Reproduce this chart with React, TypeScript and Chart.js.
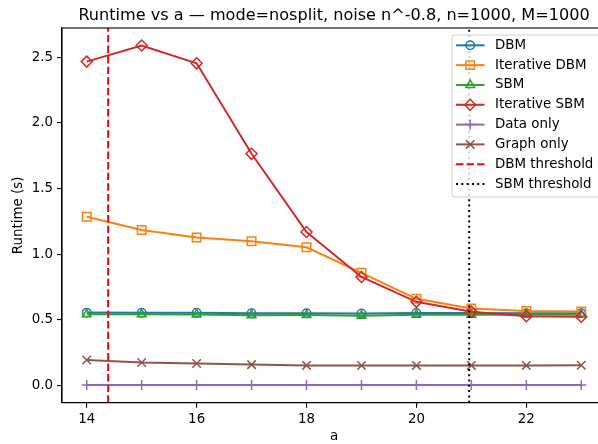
import React, { useEffect, useRef } from "react";
import { Chart, registerables } from "chart.js";

Chart.register(...registerables);

const aValues = [14, 15, 16, 17, 18, 19, 20, 21, 22, 23];
const dbm = [0.556, 0.555, 0.555, 0.551, 0.552, 0.55, 0.553, 0.553, 0.551, 0.552];
const iterDbm = [1.286, 1.185, 1.127, 1.099, 1.053, 0.859, 0.661, 0.588, 0.568, 0.565];
const sbm = [0.543, 0.543, 0.542, 0.536, 0.538, 0.532, 0.539, 0.54, 0.542, 0.541];
const iterSbm = [2.467, 2.59, 2.454, 1.765, 1.17, 0.827, 0.638, 0.563, 0.528, 0.524];
const dataOnly = [0.005, 0.005, 0.005, 0.005, 0.005, 0.005, 0.005, 0.005, 0.005, 0.005];
const graphOnly = [0.195, 0.176, 0.169, 0.16, 0.154, 0.153, 0.154, 0.154, 0.154, 0.155];
const dbmThreshold = 14.39;
const sbmThreshold = 20.96;
const xTicks = [14, 16, 18, 20, 22];
const yTicks = [0, 0.5, 1.0, 1.5, 2.0, 2.5];
const xMin = 13.55;
const xMax = 23.45;
const yMin = -0.13;
const yMax = 2.723;

const titleText = "Runtime vs a — mode=nosplit, noise n^-0.8, n=1000, M=1000";
const FONT = "'DejaVu Sans', sans-serif";
const FS = 13.4;
const TFS = 16.1;

type Series = { label: string; values: number[]; color: string; style: string; radius: number };
const seriesList: Series[] = [
  { label: "DBM", values: dbm, color: "#1f77b4", style: "circle", radius: 4.2 },
  { label: "Iterative DBM", values: iterDbm, color: "#ff7f0e", style: "rect", radius: 6 },
  { label: "SBM", values: sbm, color: "#2ca02c", style: "triangle", radius: 5 },
  { label: "Iterative SBM", values: iterSbm, color: "#d62728", style: "rectRot", radius: 5.5 },
  { label: "Data only", values: dataOnly, color: "#9467bd", style: "cross", radius: 5 },
  { label: "Graph only", values: graphOnly, color: "#8c564b", style: "crossRot", radius: 6 },
];

const W = 640;
const H = 444;
const AREA = { left: 62, top: 28, right: 606, bottom: 402.7 };

function drawMarker(ctx: CanvasRenderingContext2D, style: string, r: number, x: number, y: number) {
  ctx.beginPath();
  const S = Math.SQRT1_2;
  switch (style) {
    case "circle":
      ctx.arc(x, y, r, 0, Math.PI * 2);
      ctx.closePath();
      break;
    case "rect":
      ctx.rect(x - S * r, y - S * r, 2 * S * r, 2 * S * r);
      break;
    case "triangle": {
      let rad = 0;
      ctx.moveTo(x + Math.sin(rad) * r, y - Math.cos(rad) * r);
      rad += (2 * Math.PI) / 3;
      ctx.lineTo(x + Math.sin(rad) * r, y - Math.cos(rad) * r);
      rad += (2 * Math.PI) / 3;
      ctx.lineTo(x + Math.sin(rad) * r, y - Math.cos(rad) * r);
      ctx.closePath();
      break;
    }
    case "rectRot":
      ctx.moveTo(x - r, y);
      ctx.lineTo(x, y - r);
      ctx.lineTo(x + r, y);
      ctx.lineTo(x, y + r);
      ctx.closePath();
      break;
    case "cross":
      ctx.moveTo(x, y - r);
      ctx.lineTo(x, y + r);
      ctx.moveTo(x - r, y);
      ctx.lineTo(x + r, y);
      break;
    case "crossRot":
      ctx.moveTo(x - S * r, y - S * r);
      ctx.lineTo(x + S * r, y + S * r);
      ctx.moveTo(x - S * r, y + S * r);
      ctx.lineTo(x + S * r, y - S * r);
      break;
  }
  ctx.stroke();
}

const decorPlugin = {
  id: "decor",
  afterDraw(chart: any) {
    const ctx = chart.ctx as CanvasRenderingContext2D;
    const ca = chart.chartArea;
    ctx.save();
    ctx.strokeStyle = "#000";
    ctx.lineWidth = 1.1;
    ctx.strokeRect(ca.left, ca.top, ca.right - ca.left, ca.bottom - ca.top);
    ctx.fillStyle = "#000";
    ctx.font = `${TFS}px ${FONT}`;
    ctx.textAlign = "center";
    ctx.textBaseline = "alphabetic";
    ctx.fillText(titleText, (ca.left + ca.right) / 2, 20);
    ctx.font = `${FS}px ${FONT}`;
    ctx.textBaseline = "top";
    ctx.fillText("a", (ca.left + ca.right) / 2, 430);
    ctx.save();
    ctx.translate(19, (ca.top + ca.bottom) / 2);
    ctx.rotate(-Math.PI / 2);
    ctx.textBaseline = "middle";
    ctx.fillText("Runtime (s)", 0, 0);
    ctx.restore();

    // legend
    const lx = 452, ly = 35, lw = 149, lh = 162;
    const r = 3;
    ctx.beginPath();
    ctx.moveTo(lx + r, ly);
    ctx.lineTo(lx + lw - r, ly);
    ctx.arcTo(lx + lw, ly, lx + lw, ly + r, r);
    ctx.lineTo(lx + lw, ly + lh - r);
    ctx.arcTo(lx + lw, ly + lh, lx + lw - r, ly + lh, r);
    ctx.lineTo(lx + r, ly + lh);
    ctx.arcTo(lx, ly + lh, lx, ly + lh - r, r);
    ctx.lineTo(lx, ly + r);
    ctx.arcTo(lx, ly, lx + r, ly, r);
    ctx.closePath();
    ctx.fillStyle = "rgba(255,255,255,0.8)";
    ctx.fill();
    ctx.strokeStyle = "rgba(204,204,204,0.9)";
    ctx.lineWidth = 1;
    ctx.stroke();

    const rowY0 = 45.3;
    const rowStep = 19.82;
    const x0 = 456, x1 = 484.5, xm = 470.2, tx = 495;
    const entries: { label: string; color: string; style?: string; radius?: number; dash?: number[] }[] = [
      ...seriesList.map((s) => ({ label: s.label, color: s.color, style: s.style, radius: s.radius })),
      { label: "DBM threshold", color: "#ff0000", dash: [7.4, 3.2] },
      { label: "SBM threshold", color: "#000000", dash: [2, 3.3] },
    ];
    entries.forEach((e, i) => {
      const y = rowY0 + i * rowStep;
      ctx.save();
      ctx.strokeStyle = e.color;
      ctx.lineWidth = 2;
      ctx.setLineDash(e.dash || []);
      ctx.beginPath();
      ctx.moveTo(x0, y);
      ctx.lineTo(x1, y);
      ctx.stroke();
      ctx.setLineDash([]);
      if (e.style) {
        ctx.lineWidth = 1.5;
        drawMarker(ctx, e.style, e.radius || 4, xm, y);
      }
      ctx.restore();
      ctx.fillStyle = "#000";
      ctx.font = `${FS}px ${FONT}`;
      ctx.textAlign = "left";
      ctx.textBaseline = "middle";
      ctx.fillText(e.label, tx, y);
    });
    ctx.restore();
  },
};

export default function App() {
  const ref = useRef<HTMLCanvasElement | null>(null);
  useEffect(() => {
    document.body.style.margin = "0";
    document.body.style.overflow = "hidden";
    const canvas = ref.current!;
    const n = seriesList.length;
    const datasets: any[] = seriesList.map((s, i) => ({
      label: s.label,
      data: aValues.map((a, k) => ({ x: a, y: s.values[k] })),
      borderColor: s.color,
      backgroundColor: "rgba(0,0,0,0)",
      borderWidth: 2,
      pointStyle: s.style,
      pointRadius: s.radius,
      pointBorderWidth: 1.5,
      pointBorderColor: s.color,
      pointBackgroundColor: "rgba(0,0,0,0)",
      order: n + 2 - i,
      tension: 0,
    }));
    datasets.push({
      label: "DBM threshold",
      data: [{ x: dbmThreshold, y: yMin }, { x: dbmThreshold, y: yMax }],
      borderColor: "#ff0000",
      borderWidth: 2,
      borderDash: [7.4, 3.2],
      pointRadius: 0,
      order: 1,
    });
    datasets.push({
      label: "SBM threshold",
      data: [{ x: sbmThreshold, y: yMin }, { x: sbmThreshold, y: yMax }],
      borderColor: "#000000",
      borderWidth: 2,
      borderDash: [2, 3.3],
      pointRadius: 0,
      order: 0,
    });

    const chart = new Chart(canvas, {
      type: "line",
      data: { datasets },
      options: {
        animation: false,
        responsive: false,
        devicePixelRatio: 1,
        layout: { padding: { top: AREA.top, right: W - AREA.right, left: 0, bottom: 0 } },
        plugins: { legend: { display: false }, title: { display: false }, tooltip: { enabled: false } },
        scales: {
          x: {
            type: "linear",
            min: xMin,
            max: xMax,
            afterBuildTicks: (scale: any) => {
              scale.ticks = xTicks.map((v) => ({ value: v }));
            },
            afterFit: (scale: any) => {
              scale.height = H - AREA.bottom;
            },
            ticks: {
              color: "#000",
              font: { family: FONT, size: FS },
              padding: 4,
              maxRotation: 0,
              autoSkip: false,
              callback: (v: any) => String(v),
            },
            grid: { drawOnChartArea: false, drawTicks: true, tickLength: 5, color: "#000", lineWidth: 1.1 },
            border: { display: true, color: "#000", width: 1.1 },
          },
          y: {
            type: "linear",
            min: yMin,
            max: yMax,
            afterBuildTicks: (scale: any) => {
              scale.ticks = yTicks.map((v) => ({ value: v }));
            },
            afterFit: (scale: any) => {
              scale.width = AREA.left;
            },
            ticks: {
              color: "#000",
              font: { family: FONT, size: FS },
              padding: 4,
              autoSkip: false,
              callback: (v: any) => Number(v).toFixed(1),
            },
            grid: { drawOnChartArea: false, drawTicks: true, tickLength: 5, color: "#000", lineWidth: 1.1 },
            border: { display: true, color: "#000", width: 1.1 },
          },
        },
      },
      plugins: [decorPlugin],
    } as any);
    return () => chart.destroy();
  }, []);
  return (
    <div style={{ width: 598, height: 444, overflow: "hidden" }}>
      <canvas ref={ref} width={W} height={H} style={{ width: W, height: H, display: "block" }} />
    </div>
  );
}
